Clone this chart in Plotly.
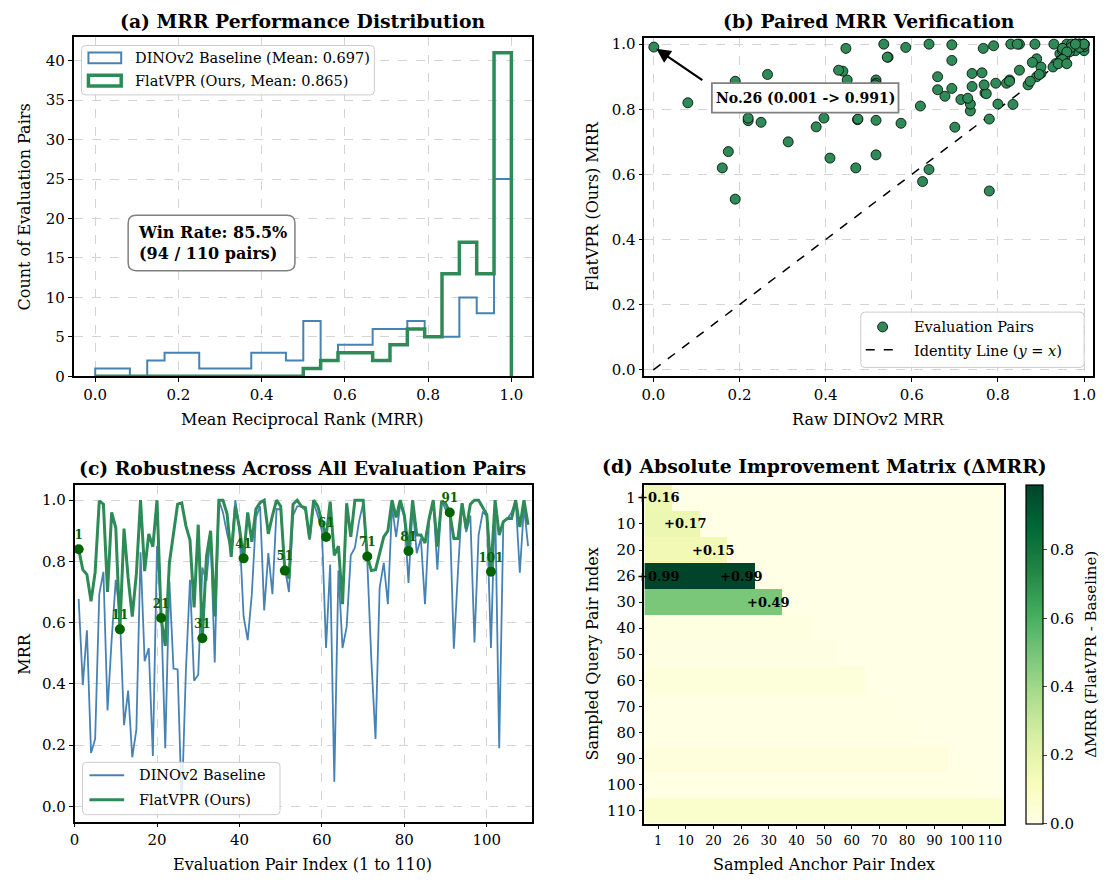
import numpy as np
import plotly.graph_objects as go

W, H = 1114, 883          # browser window
OX, OY = 8, 8             # default page body margin
FW, FH = W - 2 * OX, H - 2 * OY
FONT = "DejaVu Serif"
BLUE = "#4682B4"
GREEN = "#2E8B57"
DKGREEN = "#006400"

# ---------------- data ----------------
pair_index = list(range(1, 111))
baseline_mrr = [
    0.677, 0.396, 0.575, 0.174, 0.22, 0.693, 0.766, 0.313, 0.545, 0.74,
    0.625, 0.265, 0.378, 0.16, 0.25, 0.83, 0.474, 0.517, 0.164, 0.85,
    0.64, 0.19, 0.736, 0.45, 0.447, 0.001, 0.44, 0.74, 0.41, 0.43,
    0.78, 0.736, 0.89, 0.47, 1.0, 0.96, 0.89, 0.835, 1.0, 0.90,
    0.62, 0.543, 0.693, 0.944, 0.98, 0.64, 0.827, 0.693, 0.971, 0.97,
    0.78, 0.70, 0.95, 0.98, 0.98, 0.966, 0.87, 0.99, 0.95, 0.90,
    0.517, 0.79, 0.08, 0.77, 0.517, 0.586, 0.82, 0.845, 0.93, 0.99,
    0.80, 0.475, 0.22, 0.714, 0.795, 0.66, 0.98, 0.88, 0.987, 0.945,
    0.73, 0.98, 0.827, 0.875, 0.66, 0.934, 1.0, 0.773, 1.0, 0.97,
    0.955, 0.515, 0.768, 0.99, 0.896, 0.95, 0.535, 0.886, 0.96, 0.95,
    0.517, 1.0, 0.19, 0.928, 0.94, 0.96, 1.0, 0.763, 0.98, 0.85,
]
flatvpr_mrr = [
    0.84, 0.773, 0.757, 0.67, 0.765, 0.998, 0.987, 0.70, 0.96, 0.91,
    0.578, 0.907, 0.746, 0.62, 0.76, 1.0, 0.768, 0.89, 0.848, 1.0,
    0.615, 0.524, 0.795, 0.89, 0.987, 0.991, 0.917, 0.87, 0.65, 0.92,
    0.549, 0.816, 0.90, 0.62, 1.0, 1.0, 0.955, 0.815, 0.98, 0.91,
    0.81, 0.96, 0.864, 0.971, 0.992, 1.0, 0.89, 0.95, 1.0, 0.98,
    0.77, 0.745, 0.987, 1.0, 0.98, 0.976, 0.875, 1.0, 0.98, 0.93,
    0.88, 0.995, 0.82, 0.85, 0.66, 0.99, 0.88, 1.0, 1.0, 1.0,
    0.816, 0.77, 0.773, 0.83, 0.88, 0.90, 1.0, 0.944, 1.0, 0.95,
    0.834, 1.0, 0.886, 0.886, 0.86, 0.94, 1.0, 0.848, 0.992, 0.99,
    0.96, 0.875, 0.875, 0.99, 0.907, 0.987, 1.0, 1.0, 0.976, 0.953,
    0.766, 1.0, 0.886, 0.93, 0.94, 0.94, 1.0, 0.912, 1.0, 0.92,
]
highlight_pairs = [1, 11, 21, 31, 41, 51, 61, 71, 81, 91, 101]
annotated_pair = 26

hist_bin_edges = np.linspace(0.0, 1.0, 25)
baseline_hist_counts = [1, 1, 0, 2, 3, 3, 1, 1, 1, 3, 3, 2, 7, 2, 4, 4, 6, 6, 7, 5, 5, 10, 8, 25]
flatvpr_hist_counts = [0, 0, 0, 0, 0, 0, 0, 0, 0, 0, 0, 0, 1, 2, 3, 3, 2, 4, 6, 5, 13, 17, 13, 41]
baseline_mean = 0.697
flatvpr_mean = 0.865
win_count, total_pairs, win_rate = 94, 110, 85.5

matrix_labels = ["1", "10", "20", "26", "30", "40", "50", "60", "70", "80", "90", "100", "110"]
matrix_row_delta = [0.16, 0.17, 0.15, 0.99, 0.49, 0.012, 0.008, 0.03, 0.003, 0.005, 0.022, 0.002, 0.07]
matrix_labelled_cells = [(0, 0), (1, 1), (2, 2), (3, 0), (3, 3), (4, 4)]
identity_line = [0.0, 1.0]

YLGN = [[0.0, "#ffffe5"], [0.125, "#f7fcb9"], [0.25, "#d9f0a3"], [0.375, "#addd8e"],
        [0.5, "#78c679"], [0.625, "#41ab5d"], [0.75, "#238443"], [0.875, "#006837"],
        [1.0, "#004529"]]


# ---------------- helpers (window pixels -> paper) ----------------
def fx(x):
    return (x - OX) / FW


def fy(y):
    return 1 - (y - OY) / FH


def rrect(x0, y0, x1, y1, r):
    return (f"M {fx(x0 + r)},{fy(y0)} L {fx(x1 - r)},{fy(y0)} Q {fx(x1)},{fy(y0)} {fx(x1)},{fy(y0 + r)} "
            f"L {fx(x1)},{fy(y1 - r)} Q {fx(x1)},{fy(y1)} {fx(x1 - r)},{fy(y1)} "
            f"L {fx(x0 + r)},{fy(y1)} Q {fx(x0)},{fy(y1)} {fx(x0)},{fy(y1 - r)} "
            f"L {fx(x0)},{fy(y0 + r)} Q {fx(x0)},{fy(y0)} {fx(x0 + r)},{fy(y0)} Z")


def text(x, y, s, size=14, xanchor="center", yanchor="middle", angle=0, color="black"):
    return dict(x=fx(x), y=fy(y), xref="paper", yref="paper", text=s, showarrow=False,
                xanchor=xanchor, yanchor=yanchor, textangle=angle,
                font=dict(family=FONT, size=size, color=color))


def step_xy(edges, counts):
    xs = [edges[0]] + list(edges[:-1]) + [edges[-1]]
    ys = [0] + list(counts) + [0]
    return xs, ys


fig = go.Figure()

# ---------------- (a) histogram ----------------
bx, by = step_xy(hist_bin_edges, baseline_hist_counts)
gx, gy = step_xy(hist_bin_edges, flatvpr_hist_counts)
fig.add_trace(go.Scatter(x=bx, y=by, mode="lines", line=dict(color=BLUE, width=2, shape="hv"),
                         xaxis="x", yaxis="y", hoverinfo="skip"))
fig.add_trace(go.Scatter(x=gx, y=gy, mode="lines", line=dict(color=GREEN, width=3.5, shape="hv"),
                         xaxis="x", yaxis="y", hoverinfo="skip"))

# ---------------- (b) scatter ----------------
fig.add_trace(go.Scatter(x=identity_line, y=identity_line, mode="lines",
                         line=dict(color="black", width=1.5, dash="dash"), xaxis="x2", yaxis="y2"))
fig.add_trace(go.Scatter(x=baseline_mrr, y=flatvpr_mrr, mode="markers",
                         marker=dict(size=10, color=GREEN, line=dict(color="black", width=0.8)),
                         xaxis="x2", yaxis="y2"))

# ---------------- (c) lines ----------------
fig.add_trace(go.Scatter(x=pair_index, y=baseline_mrr, mode="lines", line=dict(color=BLUE, width=1.8),
                         xaxis="x3", yaxis="y3"))
fig.add_trace(go.Scatter(x=pair_index, y=flatvpr_mrr, mode="lines", line=dict(color=GREEN, width=3),
                         xaxis="x3", yaxis="y3"))
fig.add_trace(go.Scatter(x=highlight_pairs, y=[flatvpr_mrr[i - 1] for i in highlight_pairs],
                         mode="markers+text", text=[f"<b>{i}</b>" for i in highlight_pairs],
                         textposition="top center",
                         textfont=dict(family=FONT, size=12, color=DKGREEN),
                         marker=dict(size=10, color=DKGREEN), xaxis="x3", yaxis="y3"))

# ---------------- (d) heatmap ----------------
n = len(matrix_labels)
matrix_pos = list(range(n))
z = [[matrix_row_delta[r] if c <= r else 0.0 for c in range(n)] for r in range(n)]
fig.add_trace(go.Heatmap(
    z=z, x=matrix_pos, y=matrix_pos, colorscale=YLGN, zmin=0, zmax=max(matrix_row_delta),
    xaxis="x4", yaxis="y4", showscale=True,
    colorbar=dict(x=fx(1028), xanchor="left", xpad=0, ypad=0, thickness=17, thicknessmode="pixels",
                  len=343 / FH, lenmode="fraction", y=fy(660.5), yanchor="middle",
                  outlinecolor="black", outlinewidth=1.2, ticks="outside", ticklen=4,
                  tickvals=[0, 0.2, 0.4, 0.6, 0.8], ticktext=["0.0", "0.2", "0.4", "0.6", "0.8"],
                  tickfont=dict(family=FONT, size=15))))

# ---------------- axes ----------------
common = dict(showline=True, linecolor="black", linewidth=1.5, mirror=True, ticks="outside",
              ticklen=4, tickwidth=1.2, tickcolor="black", showgrid=True, gridcolor="#d4d4d4",
              griddash="dash", gridwidth=1, zeroline=False, tickfont=dict(family=FONT, size=15))
ytick01 = dict(tickvals=[0, 0.2, 0.4, 0.6, 0.8, 1.0], ticktext=["0.0", "0.2", "0.4", "0.6", "0.8", "1.0"])
heat_ax = dict(showline=True, linecolor="black", linewidth=1.5, mirror=True, ticks="outside",
               ticklen=4, tickwidth=1.2, tickcolor="black", showgrid=False, zeroline=False,
               tickvals=matrix_pos, ticktext=matrix_labels, tickangle=0)

layout = dict(
    width=FW, height=FH, margin=dict(l=0, r=0, t=0, b=0), paper_bgcolor="white", plot_bgcolor="white",
    showlegend=False, font=dict(family=FONT, color="black"),
    xaxis=dict(domain=[fx(69), fx(531)], range=[-0.052, 1.05], anchor="y", **ytick01, **common),
    yaxis=dict(domain=[fy(379), fy(35)], range=[0, 43.05], anchor="x",
               tickvals=[0, 5, 10, 15, 20, 25, 30, 35, 40], **common),
    xaxis2=dict(domain=[fx(644), fx(1096)], range=[-0.021, 1.021], anchor="y2", **ytick01, **common),
    yaxis2=dict(domain=[fy(379), fy(36)], range=[-0.02, 1.02], anchor="x2", **ytick01, **common),
    xaxis3=dict(domain=[fx(70), fx(531)], range=[0, 111], anchor="y3",
                tickvals=[0, 20, 40, 60, 80, 100], **common),
    yaxis3=dict(domain=[fy(830), fy(489)], range=[-0.05, 1.05], anchor="x3", **ytick01, **common),
    xaxis4=dict(domain=[fx(644), fx(1006)], anchor="y4", range=[-0.5, n - 0.5],
                tickfont=dict(family=FONT, size=13), **heat_ax),
    yaxis4=dict(domain=[fy(832), fy(489)], anchor="x4", range=[n - 0.5, -0.5],
                tickfont=dict(family=FONT, size=15), **heat_ax),
)

annotations = []
shapes = []

# titles
annotations += [
    text(300, 19, "<b>(a) MRR Performance Distribution</b>", size=18.8),
    text(870, 19, "<b>(b) Paired MRR Verification</b>", size=18.8),
    text(300, 472, "<b>(c) Robustness Across All Evaluation Pairs</b>", size=18.8),
    text(825, 470, "<b>(d) Absolute Improvement Matrix (ΔMRR)</b>", size=18.8),
]
# axis titles
annotations += [
    text(300, 423, "Mean Reciprocal Rank (MRR)", size=16),
    text(20, 207, "Count of Evaluation Pairs", size=16, angle=-90),
    text(870, 423, "Raw DINOv2 MRR", size=16),
    text(592, 207, "FlatVPR (Ours) MRR", size=16, angle=-90),
    text(300, 873, "Evaluation Pair Index (1 to 110)", size=16),
    text(20, 660, "MRR", size=16, angle=-90),
    text(825, 873, "Sampled Anchor Pair Index", size=16),
    text(592, 660, "Sampled Query Pair Index", size=16, angle=-90),
    text(1094, 661, "ΔMRR (FlatVPR - Baseline)", size=15, angle=-90),
]

# (a) legend
shapes.append(dict(type="path", path=rrect(77, 44, 372, 94, 4), xref="paper", yref="paper",
                   fillcolor="rgba(255,255,255,0.85)", line=dict(color="#cccccc", width=1)))
shapes.append(dict(type="rect", xref="paper", yref="paper", x0=fx(84), x1=fx(117), y0=fy(62), y1=fy(51),
                   line=dict(color=BLUE, width=2), fillcolor="rgba(0,0,0,0)"))
shapes.append(dict(type="rect", xref="paper", yref="paper", x0=fx(84), x1=fx(117), y0=fy(85), y1=fy(74),
                   line=dict(color=GREEN, width=3.5), fillcolor="rgba(0,0,0,0)"))
annotations += [
    text(129, 57, f"DINOv2 Baseline (Mean: {baseline_mean:.3f})", size=14.5, xanchor="left"),
    text(129, 80, f"FlatVPR (Ours, Mean: {flatvpr_mean:.3f})", size=14.5, xanchor="left"),
]
# (a) win rate box
shapes.append(dict(type="path", path=rrect(124, 216, 292, 272, 8), xref="paper", yref="paper",
                   fillcolor="white", line=dict(color="#808080", width=1.5)))
wr = text(132, 244, f"<b>Win Rate: {win_rate}%<br>({win_count} / {total_pairs} pairs)</b>",
          size=16, xanchor="left")
wr["align"] = "left"
annotations.append(wr)

# (b) annotation arrow + box
ai = annotated_pair - 1
annotations.append(dict(x=baseline_mrr[ai], y=flatvpr_mrr[ai], xref="x2", yref="y2", text="",
                        showarrow=True, ax=50, ay=34, arrowhead=2, arrowsize=1.3, arrowwidth=2.2,
                        arrowcolor="black", standoff=3))
shapes.append(dict(type="rect", xref="paper", yref="paper", x0=fx(712), x1=fx(900), y0=fy(112), y1=fy(82),
                   fillcolor="white", line=dict(color="#808080", width=1.8)))
annotations.append(text(806, 97, f"<b>No.{annotated_pair} ({baseline_mrr[ai]:.3f} -> {flatvpr_mrr[ai]:.3f})</b>",
                        size=14))
# (b) legend
shapes.append(dict(type="path", path=rrect(862, 314, 1087, 370, 4), xref="paper", yref="paper",
                   fillcolor="rgba(255,255,255,0.85)", line=dict(color="#cccccc", width=1)))
shapes.append(dict(type="circle", xref="paper", yref="paper", xsizemode="pixel", ysizemode="pixel",
                   xanchor=fx(884), yanchor=fy(329), x0=-5, x1=5, y0=-5, y1=5,
                   fillcolor=GREEN, line=dict(color="black", width=0.8)))
shapes.append(dict(type="line", xref="paper", yref="paper", x0=fx(867), x1=fx(901), y0=fy(352), y1=fy(352),
                   line=dict(color="black", width=1.5, dash="dash")))
annotations += [
    text(914, 329, "Evaluation Pairs", size=14.5, xanchor="left"),
    text(914, 353, "Identity Line (<i>y</i> = <i>x</i>)", size=14.5, xanchor="left"),
]

# (c) legend
shapes.append(dict(type="path", path=rrect(78, 770, 277, 823, 4), xref="paper", yref="paper",
                   fillcolor="rgba(255,255,255,0.85)", line=dict(color="#cccccc", width=1)))
shapes.append(dict(type="line", xref="paper", yref="paper", x0=fx(85), x1=fx(120), y0=fy(783), y1=fy(783),
                   line=dict(color=BLUE, width=2)))
shapes.append(dict(type="line", xref="paper", yref="paper", x0=fx(85), x1=fx(120), y0=fy(808), y1=fy(808),
                   line=dict(color=GREEN, width=3)))
annotations += [
    text(133, 783, "DINOv2 Baseline", size=14.5, xanchor="left"),
    text(133, 808, "FlatVPR (Ours)", size=14.5, xanchor="left"),
]

# (d) cell labels
for r, c in matrix_labelled_cells:
    annotations.append(dict(x=c, y=r, xref="x4", yref="y4",
                            text=f"<b>+{z[r][c]:.2f}</b>", showarrow=False,
                            font=dict(family=FONT, size=13, color="black")))

layout["annotations"] = annotations
layout["shapes"] = shapes
fig.update_layout(**layout)
fig.write_html("out.html")
